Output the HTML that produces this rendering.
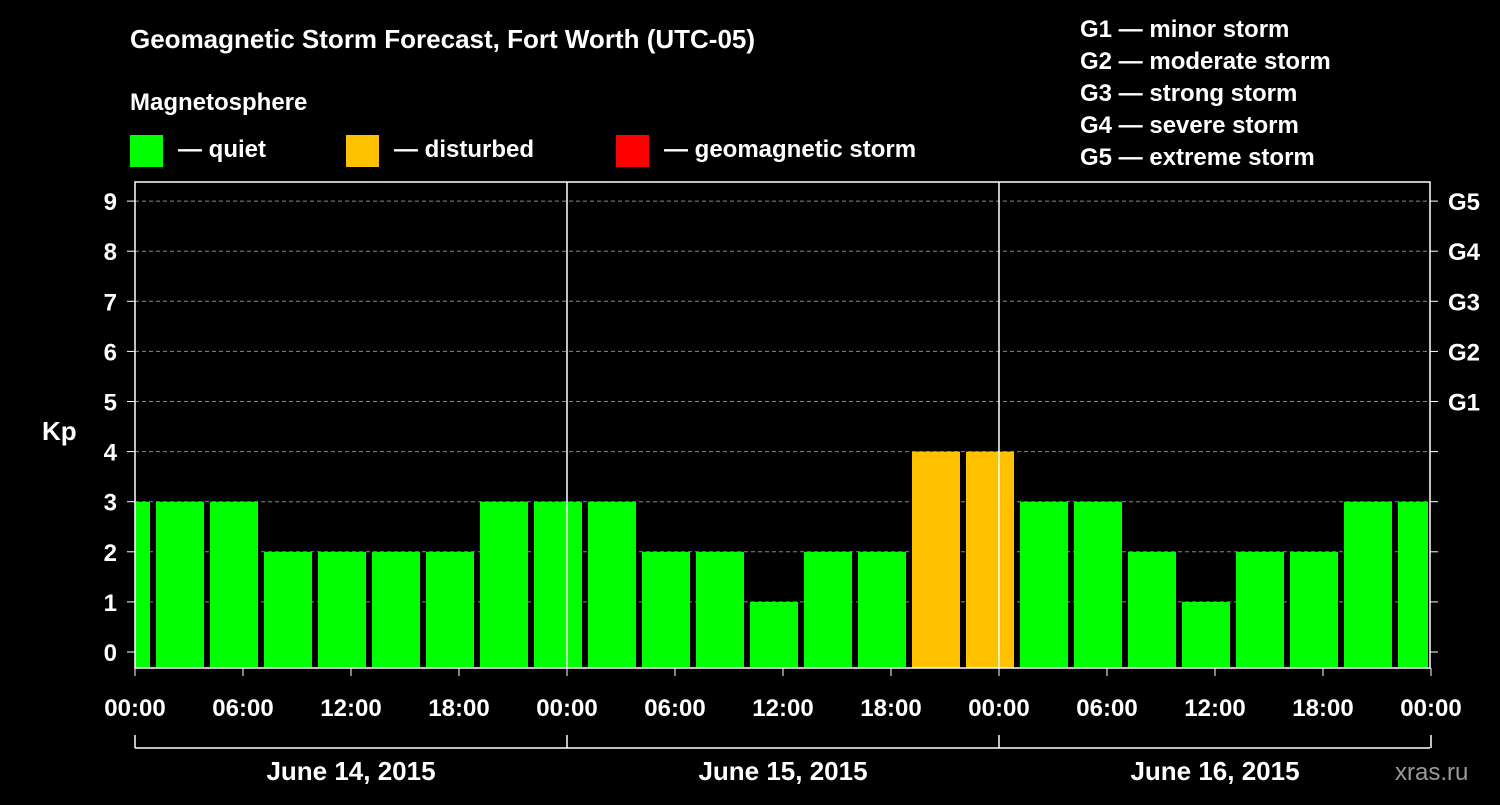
<!DOCTYPE html>
<html><head><meta charset="utf-8"><style>
body{margin:0;background:#000;}
svg text{font-family:"Liberation Sans",Arial,sans-serif;font-weight:bold;fill:#fff;}
</style></head><body>
<svg id="c" width="1500" height="800" xmlns="http://www.w3.org/2000/svg">
<rect width="1500" height="800" fill="#000"/>
<text x="130" y="48" font-size="26">Geomagnetic Storm Forecast, Fort Worth (UTC-05)</text>
<text x="130" y="110" font-size="24">Magnetosphere</text>
<g><rect x="130" y="135" width="33" height="32" fill="#00ff00"/><text x="178" y="157" font-size="24">— quiet</text></g>
<g><rect x="346" y="135" width="33" height="32" fill="#ffc000"/><text x="394" y="157" font-size="24">— disturbed</text></g>
<g><rect x="616" y="135" width="33" height="32" fill="#ff0000"/><text x="664" y="157" font-size="24">— geomagnetic storm</text></g>
<g font-size="24">
<text x="1080" y="37">G1 — minor storm</text>
<text x="1080" y="69">G2 — moderate storm</text>
<text x="1080" y="101">G3 — strong storm</text>
<text x="1080" y="133">G4 — severe storm</text>
<text x="1080" y="165">G5 — extreme storm</text>
</g>
<text x="1395" y="780" font-size="24" fill="#999" style="fill:#9a9a9a;font-weight:normal">xras.ru</text>
<text x="42" y="440" font-size="26">Kp</text>
<g id="plot"></g>
</svg>
<script>
const kpValues=[3,3,3,2,2,2,2,3,3,3,2,2,1,2,2,4,4,3,3,2,1,2,2,3,3];
const slotStartHours=[-2,1,4,7,10,13,16,19,22,25,28,31,34,37,40,43,46,49,52,55,58,61,64,67,70];
const yTicks=[0,1,2,3,4,5,6,7,8,9];
const gLabels=["G1","G2","G3","G4","G5"];
const xTickLabels=["00:00","06:00","12:00","18:00"];
const dayLabels=["June 14, 2015","June 15, 2015","June 16, 2015"];

const L=135,R=1430,T=182,B=668;
const x=h=>L+h*18;
const y=v=>652-v*50.1;
const NS="http://www.w3.org/2000/svg";
const p=document.getElementById('plot');
function mk(t,a,parent){const e=document.createElementNS(NS,t);for(const k in a)e.setAttribute(k,a[k]);(parent||p).appendChild(e);return e;}

yTicks.forEach(v=>{
  if(v>0){const g=mk('line',{x1:L,x2:R,y1:y(v),y2:y(v),stroke:'#888','stroke-dasharray':'4,3','stroke-width':1});
  
  }
  const t=mk('text',{x:117,y:y(v)+9,'font-size':24,'text-anchor':'end'});t.textContent=v;
  
  
  mk('line',{x1:L-8,x2:L,y1:y(v),y2:y(v),stroke:'#fff'});
  mk('line',{x1:R,x2:R+8,y1:y(v),y2:y(v),stroke:'#fff'});
});
gLabels.forEach((g,i)=>{
  const t=mk('text',{x:1448,y:y(5+i)+9,'font-size':24});t.textContent=g;
  
  
});
kpValues.forEach((v,i)=>{
  let x0=Math.max(L,x(slotStartHours[i])+3),x1=Math.min(R-2,x(slotStartHours[i]+3)-3);
  const r=mk('rect',{x:x0,y:y(v),width:x1-x0,height:B-y(v),fill:v>=5?'#ff0000':(v>=4?'#ffc000':'#00ff00')});
  
  
});
const f=mk('rect',{x:L,y:T,width:R-L,height:B-T,fill:'none',stroke:'#fff','stroke-width':1.5});


for(let d=0;d<=3;d++){
  if(d>0&&d<3){const l=mk('line',{x1:x(d*24),x2:x(d*24),y1:T,y2:B,stroke:'#fff','stroke-width':1.5});
  
  }
  mk('line',{x1:x(d*24),x2:x(d*24),y1:735,y2:748,stroke:'#fff','stroke-width':1.5});
}
const br=mk('line',{x1:L,x2:R,y1:748,y2:748,stroke:'#fff','stroke-width':1.5});


for(let h=0;h<=72;h+=6){
  mk('line',{x1:x(h),x2:x(h),y1:B,y2:B+8,stroke:'#fff'});
  const t=mk('text',{x:x(h),y:716,'font-size':24,'text-anchor':'middle'});
  t.textContent=h===72?"00:00":xTickLabels[(h/6)%4];
  
  
}
dayLabels.forEach((d,i)=>{
  const t=mk('text',{x:x(i*24+12),y:780,'font-size':26,'text-anchor':'middle'});t.textContent=d;
  
  
});
</script>
</body></html>
